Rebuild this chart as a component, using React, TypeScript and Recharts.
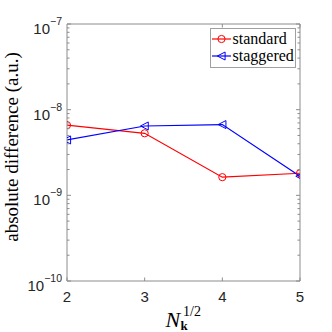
import { LineChart, Line, XAxis, YAxis, Legend } from "recharts";

// sqrt(N_k) grid sizes
const nk = [2, 3, 4, 5];
const standardDiff = [6.6e-9, 5.3e-9, 1.63e-9, 1.81e-9];
const staggeredDiff = [4.43e-9, 6.45e-9, 6.7e-9, 1.67e-9];

const xTicks = [2, 3, 4, 5];
const decadeExps = [-10, -9, -8, -7];
const minorSteps = [2, 3, 4, 5, 6, 7, 8, 9];

const seriesNames = ["standard", "staggered"];
const seriesColors = ["#ff0000", "#0000ff"];

const yTicks: number[] = [];
decadeExps.forEach((e, i) => {
  yTicks.push(Math.pow(10, e));
  if (i < decadeExps.length - 1) {
    minorSteps.forEach((m) => yTicks.push(m * Math.pow(10, e)));
  }
});

const data = nk.map((n, i) => ({
  n,
  standard: standardDiff[i],
  staggered: staggeredDiff[i],
}));

const AXIS = "#8c8c8c";
const TEXT = "#262626";
const SANS = "Liberation Sans, Arial, sans-serif";
const SERIF = "Liberation Serif, Times New Roman, serif";

const isDecade = (v: number) => {
  const e = Math.log10(v);
  return Math.abs(e - Math.round(e)) < 1e-6;
};

const LeftTick = (props: any) => {
  const { x, y, payload } = props;
  const v = payload.value;
  const major = isDecade(v);
  const exp = Math.round(Math.log10(v));
  return (
    <g>
      <line x1={x} x2={x + (major ? 4 : 2.5)} y1={y} y2={y} stroke={AXIS} />
      {major && (
        <text x={x - 5} y={y + 10} textAnchor="end" style={{ fontFamily: SANS }} fontSize={15} fill={TEXT}>
          10
          <tspan dy={-9} fontSize={10.5}>
            {"\u2212" + Math.abs(exp)}
          </tspan>
        </text>
      )}
    </g>
  );
};

const RightTick = (props: any) => {
  const { x, y, payload } = props;
  const major = isDecade(payload.value);
  return <line x1={x} x2={x - (major ? 4 : 2.5)} y1={y} y2={y} stroke={AXIS} />;
};

const BottomTick = (props: any) => {
  const { x, y, payload } = props;
  return (
    <g>
      <line x1={x} x2={x} y1={y} y2={y - 3.5} stroke={AXIS} />
      <text x={x} y={y + 20.5} textAnchor="middle" style={{ fontFamily: SANS }} fontSize={15} fill={TEXT}>
        {payload.value}
      </text>
    </g>
  );
};

const TopTick = (props: any) => {
  const { x, y } = props;
  return <line x1={x} x2={x} y1={y} y2={y + 3.5} stroke={AXIS} />;
};

const Circle = (props: any) => {
  const { cx, cy, stroke } = props;
  if (cx == null || cy == null) return null;
  return <circle cx={cx} cy={cy} r={3.6} fill="none" stroke={stroke} strokeWidth={1} />;
};

const LeftTriangle = (props: any) => {
  const { cx, cy, stroke } = props;
  if (cx == null || cy == null) return null;
  return (
    <path
      d={`M${cx - 4.2},${cy} L${cx + 3.6},${cy - 4} L${cx + 3.6},${cy + 4} Z`}
      fill="none"
      stroke={stroke}
      strokeWidth={1}
    />
  );
};

const markers = [Circle, LeftTriangle];

const LegendBox = () => (
  <svg width={86} height={40} style={{ display: "block" }}>
    <rect x={0.5} y={0.5} width={85} height={39} fill="#fff" stroke="#a0a0a0" />
    {seriesNames.map((name, i) => {
      const cy = 11 + i * 17;
      const Marker = markers[i];
      return (
        <g key={name}>
          <line x1={2} x2={21} y1={cy} y2={cy} stroke={seriesColors[i]} strokeWidth={1.2} />
          <Marker cx={11.5} cy={cy} stroke={seriesColors[i]} />
          <text x={22.5} y={cy + 4.5} style={{ fontFamily: SERIF }} fontSize={16} fill="#000">
            {name}
          </text>
        </g>
      );
    })}
  </svg>
);

const XLabel = (props: any) => {
  const vb = props.viewBox;
  const bx = vb.x + vb.width / 2;
  const by = vb.y;
  return (
    <g fill="#000" style={{ fontFamily: SERIF }}>
      <text x={bx - 18} y={by + 46} fontSize={22} fontStyle="italic">
        N
      </text>
      <text x={bx - 0.5} y={by + 34.5} fontSize={14}>
        1/2
      </text>
      <text x={bx - 3} y={by + 49} fontSize={13} fontWeight="bold">
        k
      </text>
    </g>
  );
};

const YLabel = (props: any) => {
  const vb = props.viewBox;
  const x = vb.x + 10.5;
  const y = vb.y + vb.height / 2 - 5.5;
  return (
    <text
      x={x}
      y={y}
      transform={`rotate(-90 ${x} ${y})`}
      textAnchor="middle"
      style={{ fontFamily: SERIF }}
      fontSize={19}
      fill="#000"
    >
      absolute difference (a.u.)
    </text>
  );
};

export default function App() {
  return (
    <div style={{ position: "fixed", left: 0, top: 0, width: 332, height: 332, background: "#fff" }}>
      <LineChart
        width={332}
        height={332}
        data={data}
        margin={{ top: 23, right: 31, bottom: 11, left: 7 }}
      >
        <XAxis
          xAxisId="b"
          dataKey="n"
          type="number"
          domain={[2, 5]}
          ticks={xTicks}
          interval={0}
          height={40}
          stroke={AXIS}
          tickLine={false}
          tickSize={0}
          tickMargin={0}
          tick={<BottomTick />}
          allowDataOverflow
          label={{ content: <XLabel /> }}
        />
        <XAxis
          xAxisId="t"
          orientation="top"
          type="number"
          domain={[2, 5]}
          ticks={xTicks}
          interval={0}
          height={1}
          stroke={AXIS}
          tickLine={false}
          tickSize={0}
          tickMargin={0}
          tick={<TopTick />}
          allowDataOverflow
        />
        <YAxis
          yAxisId="l"
          scale="log"
          type="number"
          domain={[1e-10, 1e-7]}
          ticks={yTicks}
          interval={0}
          width={60}
          stroke={AXIS}
          tickLine={false}
          tickSize={0}
          tickMargin={0}
          tick={<LeftTick />}
          allowDataOverflow
          label={{ content: <YLabel /> }}
        />
        <YAxis
          yAxisId="r"
          orientation="right"
          scale="log"
          type="number"
          domain={[1e-10, 1e-7]}
          ticks={yTicks}
          interval={0}
          width={1}
          stroke={AXIS}
          tickLine={false}
          tickSize={0}
          tickMargin={0}
          tick={<RightTick />}
          allowDataOverflow
        />
        <Legend
          layout="vertical"
          align="center"
          verticalAlign="middle"
          wrapperStyle={{ top: 28, left: 210, width: 86, height: 40 }}
          content={<LegendBox />}
        />
        <Line
          xAxisId="b"
          yAxisId="l"
          dataKey="standard"
          name="standard"
          stroke={seriesColors[0]}
          strokeWidth={1.2}
          dot={<Circle />}
          isAnimationActive={false}
        />
        <Line
          xAxisId="b"
          yAxisId="l"
          dataKey="staggered"
          name="staggered"
          stroke={seriesColors[1]}
          strokeWidth={1.2}
          dot={<LeftTriangle />}
          isAnimationActive={false}
        />
      </LineChart>
    </div>
  );
}
